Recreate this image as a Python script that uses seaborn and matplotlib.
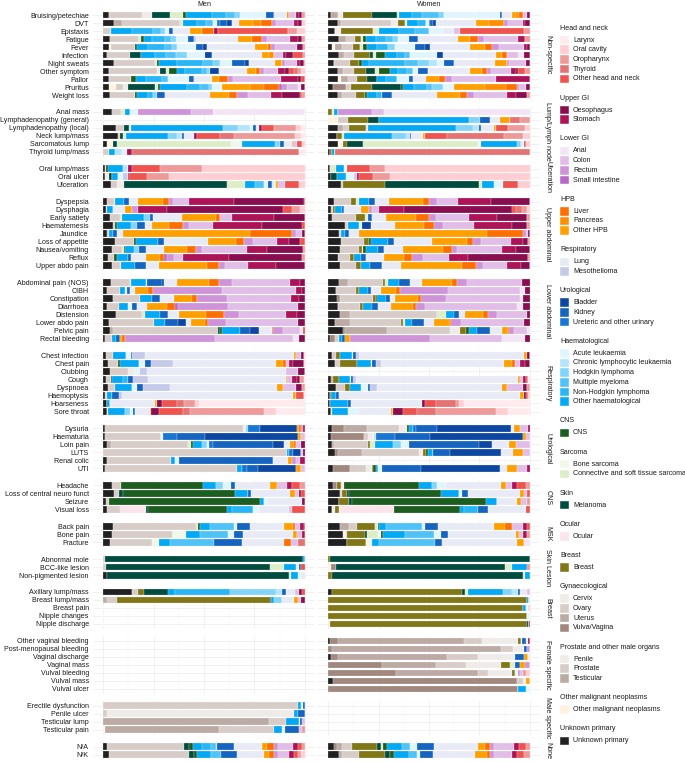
import matplotlib
matplotlib.use("Agg")
import matplotlib.pyplot as plt
from matplotlib.patches import Rectangle
import numpy as np
import pandas as pd
import seaborn as sns

sns.set_theme(style="white")
plt.rcParams["font.family"] = ["Liberation Sans", "DejaVu Sans"]

# cancer site codes -> legend labels / colours
CANCER_LABELS = {
    "LAR": "Larynx", "ORA": "Oral cavity", "ORO": "Oropharynx", "THY": "Thyroid",
    "OHN": "Other head and neck", "OES": "Oesophagus", "STO": "Stomach",
    "ANA": "Anal", "COL": "Colon", "REC": "Rectum", "SMA": "Small intestine",
    "LIV": "Liver", "PAN": "Pancreas", "OHP": "Other HPB",
    "LUN": "Lung", "MES": "Mesothelioma",
    "BLA": "Bladder", "KID": "Kidney", "URE": "Ureteric and other urinary",
    "ACU": "Acute leukaemia", "CLL": "Chronic lymphocytic leukaemia",
    "HOD": "Hodgkin lymphoma", "MM": "Multiple myeloma",
    "NHL": "Non-Hodgkin lymphoma", "OHA": "Other haematological",
    "CNS": "CNS", "BON": "Bone sarcoma", "CTS": "Connective and soft tissue sarcoma",
    "MEL": "Melanoma", "OCU": "Ocular", "BRE": "Breast",
    "CER": "Cervix", "OVA": "Ovary", "UTE": "Uterus", "VUL": "Vulva/Vagina",
    "PEN": "Penile", "PRO": "Prostate", "TES": "Testicular",
    "OTH": "Other malignant neoplasms", "UNK": "Unknown primary",
}

COLOURS = {
    "LAR": "#ffebee", "ORA": "#ffcdd2", "ORO": "#ef9a9a", "THY": "#e57373", "OHN": "#ef5350",
    "OES": "#880e4f", "STO": "#ad1457",
    "ANA": "#f3e5f5", "COL": "#e1bee7", "REC": "#ce93d8", "SMA": "#ba68c8",
    "LIV": "#ff6f00", "PAN": "#ff8f00", "OHP": "#ffa000",
    "LUN": "#e8eaf6", "MES": "#c5cae9",
    "BLA": "#0d47a1", "KID": "#1565c0", "URE": "#1976d2",
    "ACU": "#e1f5fe", "CLL": "#b3e5fc", "HOD": "#81d4fa", "MM": "#4fc3f7",
    "NHL": "#29b6f6", "OHA": "#03a9f4",
    "CNS": "#1b5e20", "BON": "#f1f8e9", "CTS": "#dcedc8", "MEL": "#004d40",
    "OCU": "#fce4ec", "BRE": "#827717",
    "CER": "#efebe9", "OVA": "#d7ccc8", "UTE": "#bcaaa4", "VUL": "#a1887f",
    "PEN": "#efebe9", "PRO": "#d7ccc8", "TES": "#bcaaa4",
    "OTH": "#fff3e0", "UNK": "#212121",
}

LEGEND_GROUPS = [
    ("Head and neck", ["LAR", "ORA", "ORO", "THY", "OHN"]),
    ("Upper GI", ["OES", "STO"]),
    ("Lower GI", ["ANA", "COL", "REC", "SMA"]),
    ("HPB", ["LIV", "PAN", "OHP"]),
    ("Respiratory", ["LUN", "MES"]),
    ("Urological", ["BLA", "KID", "URE"]),
    ("Haematological", ["ACU", "CLL", "HOD", "MM", "NHL", "OHA"]),
    ("CNS", ["CNS"]),
    ("Sarcoma", ["BON", "CTS"]),
    ("Skin", ["MEL"]),
    ("Ocular", ["OCU"]),
    ("Breast", ["BRE"]),
    ("Gynaecological", ["CER", "OVA", "UTE", "VUL"]),
    ("Prostate and other male organs", ["PEN", "PRO", "TES"]),
    ("Other malignant neoplasms", ["OTH"]),
    ("Unknown primary", ["UNK"]),
]

GROUPS = ["Non-specific", "Lump/Lymph node", "Ulceration", "Upper abdominal",
          "Lower abdominal", "Respiratory", "Urological", "CNS", "MSK",
          "Skin Lesion", "Breast", "Female specific", "Male specific", "None"]
GROUP_SIZES = [11, 6, 3, 9, 8, 8, 6, 4, 3, 3, 5, 7, 4, 2]

SYMPTOMS = [
    "Bruising/petechiae", "DVT", "Epistaxis", "Fatigue", "Fever", "Infection",
    "Night sweats", "Other symptom", "Pallor", "Pruritus", "Weight loss",
    "Anal mass", "Lymphadenopathy (general)", "Lymphadenopathy (local)",
    "Neck lump/mass", "Sarcomatous lump", "Thyroid lump/mass",
    "Oral lump/mass", "Oral ulcer", "Ulceration",
    "Dyspepsia", "Dysphagia", "Early satiety", "Haematemesis", "Jaundice",
    "Loss of appetite", "Nausea/vomiting", "Reflux", "Upper abdo pain",
    "Abdominal pain (NOS)", "CIBH", "Constipation", "Diarrhoea", "Distension",
    "Lower abdo pain", "Pelvic pain", "Rectal bleeding",
    "Chest infection", "Chest pain", "Clubbing", "Cough", "Dyspnoea",
    "Haemoptysis", "Hoarseness", "Sore throat",
    "Dysuria", "Haematuria", "Loin pain", "LUTS", "Renal colic", "UTI",
    "Headache", "Loss of central neuro funct", "Seizure", "Visual loss",
    "Back pain", "Bone pain", "Fracture",
    "Abnormal mole", "BCC-like lesion", "Non-pigmented lesion",
    "Axillary lump/mass", "Breast lump/mass", "Breast pain", "Nipple changes",
    "Nipple discharge",
    "Other vaginal bleeding", "Post-menopausal bleeding", "Vaginal discharge",
    "Vaginal mass", "Vulval bleeding", "Vulval mass", "Vulval ulcer",
    "Erectile dysfunction", "Penile ulcer", "Testicular lump", "Testicular pain",
    "N/A", "N/K",
]

# share (%) of each cancer site per symptom
MEN = [
    "UNK 3 PRO 16 PEN 5 MEL 9 CTS 6 CNS 1.5 OHA 13 NHL 7 MM 4 HOD 2.5 ACU 13 KID 4 LUN 6 PAN 1 COL 3.5 STO 1.5 OES 1.5 ORO 1.5",
    "UNK 5.5 TES 3.6 PRO 29 CTS 1.3 OHA 7 NHL 4.5 MM 3.3 ACU 2 URE 1.5 KID 3.5 BLA 2.4 LUN 3.5 OHP 7 PAN 3.8 LIV 5.3 REC 2.1 COL 9 STO 2.1 OES 1.6 ORA 1.6",
    "PRO 4.1 OHA 10.4 NHL 10.2 MM 3.8 HOD 2 ACU 2 KID 2.1 LUN 8.3 OHP 6.1 LIV 6 STO 2 OHN 34.7 ORO 4.1 ORA 4.1",
    "UNK 3.3 PRO 14.5 CTS 0.8 CNS 1.5 OHA 4.3 NHL 6.1 MM 3.3 HOD 2.5 ACU 5.8 KID 2.8 MES 1.3 LUN 20.7 OHP 7 LIV 4.6 REC 2.5 COL 11.6 STO 3.8 OES 2 ORO 1.6",
    "UNK 2.8 OTH 1.3 PRO 11.6 CNS 1.3 OHA 5.3 NHL 8.3 MM 3.3 HOD 2.5 ACU 9.6 KID 3.6 BLA 1.6 LUN 24 OHP 6.3 LIV 1.5 REC 2.1 COL 10.7 OES 3.3 ORO 0.8",
    "UNK 2 PRO 11.2 MEL 5.5 OHA 7 NHL 5.5 MM 5 HOD 5.3 ACU 9 BLA 3.3 LUN 24.8 OHP 3.8 PAN 2.3 COL 4.3 STO 1.6 OES 3.6 OHN 5 ORO 0.8",
    "UNK 5.5 PRO 20.2 CTS 0.8 CNS 1.3 OHA 8.6 NHL 13.2 MM 5 HOD 3.3 ACU 5.8 KID 6.6 BLA 2.1 LUN 12.7 OHP 3.3 REC 1.6 COL 5.8 STO 1.6 OES 2 ORO 0.5",
    "UNK 3 PRO 23.8 PEN 1.4 MEL 3 CTS 1.4 CNS 4.2 OHA 4 NHL 8 MM 2.6 HOD 1.8 BLA 4.4 LUN 13.8 OHP 4.2 LIV 2.3 REC 1.8 COL 7 STO 3.5 OES 2.1 OHN 2.3 THY 1.8 ORO 1.8 ORA 1.8",
    "UNK 3 PRO 11 CNS 2.1 OHA 5.3 NHL 8 MM 2.6 ACU 10.6 KID 2.6 LUN 8.8 OHP 3.5 LIV 4.4 REC 2.6 COL 23.8 STO 8 OES 1.8 OHN 1.8",
    "UNK 3 OTH 3.5 PRO 3.5 PEN 2.3 MEL 13.6 CTS 1.4 CNS 0.7 OHA 13.8 NHL 6.2 MM 4.4 HOD 1.8 ACU 4.8 OHP 13.8 PAN 7 LIV 7.4 SMA 1.4 REC 2.6 COL 5.3 ANA 1.8 OES 1.8",
    "UNK 3.5 PRO 12.3 CNS 0.9 OHA 5.6 NHL 2.6 HOD 1.8 KID 4 LUN 22.4 OHP 9.3 LIV 3.9 REC 5.3 COL 11.5 STO 5.3 OES 8.8 OHN 1.4 ORO 1.2",
    "UNK 4.4 PRO 4.4 CTS 2.1 OHA 2.3 ACU 3.9 REC 26.4 COL 10.9 ANA 45.5",
    "",
    "UNK 6.5 PRO 3.5 MEL 2.5 CTS 0.9 OHA 44.6 HOD 7.6 CLL 5.6 ACU 1.5 KID 1.4 LUN 1.4 STO 1.8 OHN 5.6 ORO 10.9 ORA 2.3 LAR 1.8",
    "UNK 7.4 PRO 1.2 MEL 1.2 CTS 1.4 OHA 20.8 HOD 4.8 CLL 2.6 KID 0.9 LUN 4.9 STO 1.2 OHN 11.5 THY 7 ORO 30.3 ORA 3.2 LAR 1.8",
    "UNK 2.1 OTH 2.6 MEL 2.3 CTS 56.4 BON 5.3 OHA 16.2 HOD 2.6 KID 1.8 LUN 4 OHP 0.7 COL 1.9 OHN 2.6 ORA 1.2",
    "PRO 3 OHA 3 CLL 3.2 LUN 2.6 STO 2.6 THY 82.5 LAR 3",
    "UNK 0.8 PRO 0.8 CNS 0.8 OHA 7.4 CLL 2.5 STO 2 OHN 13.4 ORO 21 ORA 50.4",
    "UNK 0.9 PEN 2.1 MEL 1.2 OHA 3.2 ACU 2.6 MES 2.1 STO 0.5 OHN 9.3 ORO 10.6 ORA 67.4",
    "UNK 3.9 PRO 3 PEN 3.7 MEL 50.6 CTS 9.3 OHA 4.8 MM 4.4 ACU 2.1 KID 1.8 LUN 2.3 OHP 0.9 COL 3.5 OHN 6.7 ORA 3",
    "UNK 1.8 PRO 3.5 CTS 0.4 OHA 4.4 KID 2.6 LUN 4.4 OHP 12.3 LIV 3 REC 2.3 COL 7.9 STO 22 OES 34.7 OHN 0.5",
    "UNK 1.6 PRO 0.5 OHA 3 LUN 5.5 OHP 3.9 REC 2.6 STO 14.6 OES 57.3 OHN 4.2 ORO 4 ORA 2.6",
    "UNK 3.5 PRO 4.8 CTS 1.2 OHA 10.8 HOD 3 KID 1.4 LUN 14.5 OHP 16.8 LIV 2.1 COL 5.8 STO 20.8 OES 15.3",
    "UNK 4.8 PRO 0.9 CNS 1.4 OHA 6.5 HOD 3 KID 4 LUN 3.5 OHP 8.5 LIV 6.9 REC 3.2 COL 12 STO 24.2 OES 19.9 OHN 1.2",
    "UNK 2.1 PRO 0.9 OHA 1.8 KID 2.3 LUN 3 OHP 63 LIV 20.5 REC 2.1 COL 3.2 OES 1.2",
    "UNK 6 PRO 9.3 CNS 0.9 OHA 10.6 KID 3 LUN 22 OHP 13.6 LIV 4 REC 4.4 COL 12 STO 5.6 OES 5.6 OHN 2.3",
    "UNK 4.4 PRO 4.8 CTS 0.9 CNS 0.9 OHA 4.4 HOD 2.1 KID 3.9 LUN 8.5 OHP 11.5 LIV 4.4 REC 3 COL 22 STO 10.2 OES 17.6 ORO 0.9",
    "UNK 2.5 PRO 2.8 CNS 1.2 OHA 5.3 KID 1.8 LUN 7.2 OHP 6.9 LIV 1.8 SMA 1.4 REC 3.5 COL 4.4 STO 22 OES 35.3 ORO 1.4",
    "UNK 4.2 PRO 4 CTS 0.9 OHA 6.7 KID 5.6 LUN 6.2 OHP 23.8 LIV 6.2 REC 2.6 COL 11.5 STO 14.1 OES 14.1",
    "UNK 4.1 PRO 9.1 CTS 0.5 OHA 7.3 ACU 0.8 KID 7.4 BLA 0.8 LUN 6.6 OHP 15.4 LIV 5.3 REC 6.3 COL 28.4 STO 5 OES 2.5",
    "UNK 2 PRO 6.3 OHA 2.5 ACU 0.8 KID 1.6 LUN 2.5 OHP 6.6 LIV 2.5 REC 33.9 COL 36.9 STO 2.8 OES 1.6",
    "UNK 5 PRO 13.2 OHA 5.8 KID 4.1 LUN 6.9 OHP 8.8 LIV 2.5 REC 14.9 COL 31.4 STO 4 OES 3",
    "UNK 2 PRO 6 OHA 4.5 ACU 2 KID 2.1 LUN 5 OHP 9.9 LIV 4.1 SMA 1.6 REC 24.8 COL 34.4 OES 3.6",
    "UNK 6.3 PRO 13.2 CTS 1.2 OHA 7.4 KID 4.1 LUN 5.5 OHP 13.2 LIV 8.9 REC 7.6 COL 23.1 STO 5.3 OES 4.1",
    "UNK 3 PRO 22.1 OHA 5.5 KID 6.6 BLA 4.1 LUN 2.5 OHP 6.6 LIV 1.6 REC 8.8 COL 35.9 OES 3.3",
    "UNK 3.3 TES 1.6 PRO 52 MEL 0.8 CNS 1.3 OHA 8.6 KID 5 BLA 4.6 LUN 6.1 LIV 0.8 REC 5 COL 8.3 ANA 1.6 OHN 0.8",
    "UNK 0.8 PRO 3.8 OHA 1.6 KID 2 OHP 1.3 LIV 1.2 REC 44.6 COL 38.5 ANA 3.3 OES 2.8",
    "UNK 1.3 PRO 3.6 OHA 6.3 ACU 2.5 KID 0.8 MES 6.1 LUN 73.9 OHP 1.3 COL 2.5 OES 1.2 ORA 0.5",
    "UNK 2.5 PRO 5 CNS 0.8 OHA 9.6 ACU 2.8 KID 2.8 MES 10.9 LUN 51.2 OHP 3.6 LIV 1.3 COL 1.6 STO 2 OES 5.3 ORA 0.5",
    "UNK 3.3 PRO 9.1 PEN 3.3 ACU 2.8 MES 3.3 LUN 68.8 COL 6.1 OES 3.3",
    "UNK 1.3 PRO 2.5 CNS 0.8 OHA 5.3 NHL 2.5 KID 2.5 MES 7.4 LUN 68.3 OHP 0.7 COL 2.6 STO 2.5 OES 1.2 ORO 2 LAR 0.5",
    "UNK 2.5 PRO 3.3 OHA 8.3 ACU 2.5 KID 3.3 MES 13.2 LUN 53.2 OHP 2.6 COL 6.6 OES 3.3 ORO 1.2",
    "UNK 0.8 PRO 1.2 OHA 2.6 KID 3.3 MES 1.6 LUN 84.3 OHP 1.2 OHN 4 LAR 0.5",
    "UNK 1.7 OHA 1.7 LUN 21.8 OHP 1 OES 2.5 OHN 7.4 THY 3.3 ORO 5.8 ORA 1.7 LAR 51.9",
    "UNK 1.8 CTS 0.7 OHA 8.5 HOD 2.1 ACU 1.8 KID 1 LUN 7 OHP 0.7 OES 4 OHN 11.8 THY 3.5 ORO 36.5 ORA 5.8 LAR 14.1",
    "UNK 0.7 PRO 68.4 PEN 1.8 HOD 0.9 URE 5.8 BLA 18.5 OHP 1.2 LIV 0.9 REC 0.9 STO 0.9",
    "UNK 0.9 PRO 28 ACU 1 URE 6.9 KID 13.8 BLA 45.9 OHP 1.8 COL 1.8",
    "UNK 1.8 TES 2.1 PRO 38.4 CTS 1.2 CNS 0.9 OHA 4.4 HOD 2.6 ACU 0.9 URE 2.3 KID 29.5 BLA 5.3 LUN 3 OHP 2.3 LIV 0.9 COL 2.6 OES 1.8",
    "PRO 91.2 OHA 0.9 URE 2.1 BLA 4.1 COL 0.9 OES 0.9",
    "UNK 2.1 PRO 31.4 OHA 2.1 ACU 1.8 KID 46.7 LUN 7.6 OHP 2.1 REC 1.8 COL 2.1 STO 2.3",
    "UNK 0.9 PRO 65.3 OHA 2.6 URE 2.5 KID 5.3 BLA 19 OHP 2.6 COL 1.8",
    "UNK 4.2 PRO 4.9 CNS 40.2 OHA 6.5 HOD 3.5 ACU 4 KID 2.1 LUN 17.3 OHP 3.5 COL 4.8 STO 2.3 OHN 4.2 ORO 2.3",
    "UNK 5.6 PRO 2.1 MEL 2.3 CNS 55.2 OHA 6.5 KID 1.4 LUN 19.2 OHP 2.8 COL 1.8 OES 1.2 OHN 1.8",
    "UNK 1.6 PRO 1.4 CNS 74.6 OHA 2.1 ACU 2.1 LUN 16.9 OES 1.2",
    "UNK 1.8 PRO 6.5 OCU 13.2 MEL 0.9 CNS 39 OHA 2.5 NHL 10.6 ACU 2.6 LUN 15 COL 1.4 OHN 6.5",
    "UNK 5.1 PRO 41.1 CTS 0.9 CNS 0.9 OHA 5.3 MM 11.5 ACU 1.8 KID 6.2 LUN 16.8 OHP 4.8 LIV 1 COL 2.5 STO 1.8 OHN 0.5",
    "UNK 4.4 PRO 29.5 CTS 0.9 BON 6.2 OHA 7 MM 13.8 ACU 3 KID 4.4 LUN 25 OHP 1.8 COL 2.8 STO 1.2",
    "UNK 3.5 PRO 20.6 BON 3.5 OHA 5.3 MM 22 KID 13.8 LUN 20.6 LIV 3.5 COL 3.5 THY 3.5",
    "PRO 0.7 MEL 98.4 OHA 0.9",
    "PRO 1.2 MEL 81.7 CTS 6.5 OHA 6.2 ACU 1.4 KID 1.2 OHN 1.8",
    "UNK 2.1 MEL 90 CTS 0.9 OHA 3.5 ACU 1.8 LUN 1.8",
    "UNK 14.1 PRO 3 BRE 3 MEL 12.3 OHA 3.2 NHL 27.3 HOD 22.9 CLL 3 KID 1.8 LUN 4.6 COL 1.8 OES 1.8 OHN 1.2",
    "TES 2.1 PRO 4.9 BRE 76.2 OHA 1.8 HOD 3.5 LUN 6.2 OHP 1.8 COL 1.8 OES 1.8",
    "", "", "",
    "", "", "", "", "", "", "",
    "PRO 96.5 OHA 1.8 ACU 0.9 KID 0.9",
    "PRO 2.1 PEN 92.6 OHA 1.8 KID 3.5",
    "TES 82.4 PRO 8.5 OHA 6.2 ACU 0.7 KID 1.1 COL 1.2",
    "OTH 0.7 TES 57 PRO 27 OHA 3.9 ACU 1.8 KID 6.7 COL 1.8 ORO 1.2",
    "UNK 1.8 PRO 38.3 MEL 2.6 CNS 1.8 OHA 4.4 NHL 4.4 MM 2.6 CLL 0.5 KID 8.3 LUN 14.1 OHP 2.3 LIV 3.5 REC 2.1 COL 7 STO 2.6 OHN 2.3 ORO 1.2",
    "UNK 3 PRO 39.7 MEL 2.1 CNS 1.8 OHA 6.7 MM 5.3 KID 7.9 LUN 13.2 OHP 2.6 LIV 2.6 REC 1.8 COL 5.3 STO 2.6 OHN 1.8 ORO 1.8 ORA 1.8",
]

WOMEN = [
    "UNK 1.6 UTE 3.2 CER 2.6 BRE 14.6 MEL 12.3 CTS 1 OHA 6.5 NHL 5 MM 8 HOD 2.6 ACU 27.7 KID 1.4 LUN 4.8 OHP 2 PAN 1.5 LIV 1.8 COL 2.3 OES 1.2",
    "UNK 4.8 UTE 1.4 OVA 25 CER 3.2 BRE 3.5 CTS 1.2 OHA 5 NHL 4.3 ACU 1.2 URE 0.8 KID 1.5 BLA 1.2 LUN 20 OHP 6 PAN 7.7 REC 1.8 COL 7.4 STO 1 OES 2.5",
    "UNK 3.4 CER 3.2 BRE 15.5 CTS 3 OHA 10 NHL 8 MM 6.7 ACU 7 LUN 5.6 COL 3.2 OHN 31.4 ORO 3",
    "UNK 5.6 UTE 3.2 OVA 4.4 BRE 3 CTS 0.9 CNS 1.4 OHA 5 NHL 5 MM 3.6 HOD 2.3 ACU 5.6 KID 4.4 LUN 19.8 OHP 5.8 LIV 4 REC 3 COL 17 STO 3.5 ORO 2.3",
    "UNK 2 OTH 1.2 UTE 3.5 OVA 5.8 BRE 3.3 CTS 1.3 CNS 2 OHA 5 NHL 5.7 HOD 3.3 ACU 10 KID 5 BLA 2.4 LUN 19.8 OHP 7.5 LIV 3.3 REC 3.3 COL 12.4 STO 1.5 OES 1.5",
    "UNK 5.5 UTE 2.3 OVA 5 BRE 7.9 MEL 1.3 CTS 1.6 CNS 4.5 OHA 5.8 NHL 4.1 MM 2.5 ACU 13.2 BLA 2.8 LUN 26.4 OHP 3 LIV 2.3 COL 5.5 ANA 2.8 OES 3",
    "UNK 3 OVA 7.6 BRE 4.8 CNS 1 OHA 3.5 NHL 18 MM 6 HOD 5.5 CLL 4 ACU 3.5 KID 4.8 LUN 20 OHP 6.2 REC 1 COL 8.3 OES 1.8",
    "UNK 4.8 UTE 2.6 OVA 5.3 BRE 6.2 MEL 4.4 CTS 1.8 CNS 5.3 OHA 4.4 NHL 4.4 MM 2.6 ACU 2.6 KID 5.3 LUN 20.3 OHP 6.2 LIV 2.6 REC 1.8 COL 9.7 STO 2.6 OES 0.9 OHN 3.5 ORO 2.6",
    "UNK 4.8 OTH 1.8 UTE 3.5 OVA 4.4 BRE 4.8 MEL 4.9 OHA 4.4 NHL 5.3 ACU 6.2 KID 1.8 LUN 6.5 OHP 6.7 LIV 2.6 REC 3.5 COL 22 STO 16.8",
    "UNK 2.5 VUL 6.2 OVA 2.6 BRE 10.2 MEL 14.6 CNS 0.9 OHA 5.6 NHL 6.2 MM 2.6 HOD 5.3 ACU 5.6 OHP 15.5 PAN 10.2 LIV 5.6 REC 0.9 COL 3.5 OES 1.8",
    "UNK 4.8 UTE 2.3 OVA 6.5 BRE 4.8 CNS 0.9 OHA 4.9 NHL 2.6 KID 4.9 LUN 22.4 OHP 11.5 LIV 3.2 REC 3.5 COL 16.2 STO 4.8 OES 5.5 ORO 1.2",
    "BRE 2.1 CTS 0.9 OHA 1.8 REC 17 COL 5.8 ANA 72.3",
    "OTH 5 OVA 5 BRE 9.9 MEL 5.3 OHA 45 HOD 5 KID 5 LUN 5 OHP 5 THY 5 ORO 5",
    "UNK 4.8 UTE 2.6 OVA 2.6 BRE 8.3 CTS 1 OHA 43 HOD 8.5 CLL 2.6 KID 1.2 LUN 6.3 OHP 1.2 OHN 5.8 ORO 7.9 ORA 2.6",
    "UNK 4.2 BRE 2.8 CTS 0.9 OHA 23.8 HOD 7 CLL 1.8 KID 0.7 LUN 5.8 OHP 0.9 OHN 10.9 THY 28.2 ORO 9.7 ORA 3.2",
    "UNK 4.8 OTH 2.6 BRE 1.8 MEL 7.9 CTS 57.3 BON 1.4 OHA 18 HOD 1.8 LUN 1.4 OHN 1.2 ORA 1.8",
    "UNK 0.7 BRE 1.4 OHA 1.4 THY 96.5",
    "UNK 0.7 CTS 3.2 OHA 3.9 ACU 1.4 OHN 11.5 ORO 7.6 ORA 71.8",
    "UNK 1.6 MEL 2.6 OHA 4.6 ACU 3.9 COL 1.8 STO 0.9 OHN 6.7 ORO 8.6 ORA 69.3",
    "UNK 6.5 OVA 0.9 BRE 20.8 MEL 46.7 CTS 1.2 OHA 6.2 ACU 4.4 OHN 7.4 ORA 5.8",
    "UNK 3 OVA 8.5 BRE 2.5 CTS 1.4 OHA 4.8 KID 3.2 LUN 6.7 OHP 16.8 LIV 3 REC 3.9 COL 10.2 STO 16.8 OES 19",
    "UNK 1.6 OVA 0.9 BRE 0.9 OHA 3.7 KID 0.7 LUN 8.5 OHP 3.9 REC 1.8 COL 3.2 STO 12.3 OES 53.4 OHN 2.1 THY 3 ORO 2.6 ORA 1.4",
    "UNK 2.1 OVA 11.5 BRE 4.8 CTS 1.4 KID 2.1 LUN 6.7 OHP 15 LIV 6.5 REC 3.5 COL 16.4 STO 13.6 OES 15.2 ORO 1.2",
    "UNK 8.3 OVA 1.8 OHA 5.3 ACU 1.2 BLA 4.9 LUN 11.5 OHP 14.6 LIV 4.8 REC 4.8 COL 15.2 STO 18.9 OES 7.6 ORO 1.2",
    "UNK 5.6 OVA 0.9 OHA 1.8 KID 2.3 LUN 4.8 OHP 63.5 LIV 17.6 REC 1.8 COL 0.9 OES 0.9",
    "UNK 6.5 OVA 11.1 BRE 2.5 CNS 0.9 OHA 8.5 KID 2.6 LUN 18.9 OHP 16.8 LIV 3.2 REC 3.9 COL 14.5 STO 5.8 OES 2.6 ORO 0.9",
    "UNK 5.6 OVA 9.3 BRE 1.2 CTS 0.9 CNS 1.4 OHA 5.8 KID 2.5 LUN 9.3 OHP 19.4 LIV 4 REC 2.6 COL 21.5 STO 7 OES 6.5",
    "UNK 4.8 OVA 6.2 BRE 1.8 OHA 3.5 KID 2.6 LUN 8.8 OHP 9.7 LIV 4.4 REC 5.3 COL 12.9 STO 9.5 OES 29.6 ORO 0.9",
    "UNK 5.6 OVA 7.9 BRE 2.6 OHA 4.4 KID 5.8 LUN 9.2 OHP 30 LIV 7 REC 3.5 COL 11.8 STO 6.7 OES 4.4",
    "UNK 5.5 UTE 4.5 OVA 17 BRE 1.2 CTS 1.6 OHA 5.5 KID 5.3 LUN 5.8 OHP 14.9 LIV 2.8 REC 4.6 COL 27.3 OES 4.1",
    "UNK 3.8 OVA 10.2 BRE 1.3 OHA 4.5 KID 1.6 LUN 5 OHP 7.4 LIV 1.6 REC 24 COL 35.5 ANA 2.5 OES 2.5",
    "UNK 4.5 VUL 1.3 OVA 16.2 BRE 1.6 CNS 0.7 OHA 4.6 KID 1.6 LUN 2.5 OHP 11.6 LIV 1.6 REC 12.4 COL 36.4 ANA 1.6 OES 3.3",
    "UNK 5 OVA 10.7 BRE 1.6 OHA 4.6 KID 2.8 LUN 6.6 OHP 10.7 LIV 1.6 REC 4.1 COL 45.5 ANA 3.3 OES 3.3",
    "UNK 6.1 UTE 5 OVA 43 CTS 4.3 OHA 4 KID 2.6 LUN 2.8 OHP 8.8 LIV 2.5 REC 4.5 COL 14.9 OES 1.6",
    "UNK 3.3 UTE 7.4 OVA 24.5 BRE 1 CTS 1.2 OHA 3.3 KID 5.8 LUN 5 OHP 7.4 LIV 0.8 REC 4.6 COL 30.4 OES 3",
    "UNK 7.4 VUL 0.8 UTE 21 OVA 31 CER 5 BRE 2.5 CNS 1.6 OHA 3.8 KID 6.6 LUN 6.1 OHP 2.8 LIV 0.5 REC 2.5 COL 6.6 ANA 1.2",
    "UNK 0.8 VUL 2.5 OVA 2.1 OHA 1.6 KID 1.2 OHP 2.5 REC 39 COL 35.7 ANA 11 OES 2.5",
    "UNK 2.1 OVA 2 BRE 2 OHA 5.5 ACU 0.8 KID 1.3 MES 1.6 LUN 81.3 OHP 1.3 OES 1.6",
    "UNK 3.3 OVA 2.8 BRE 8.3 OHA 7.1 ACU 0.5 KID 1.6 MES 2.8 LUN 60.7 OHP 3.8 LIV 1.6 COL 2.5 STO 2.5 OES 2.5",
    "",
    "UNK 1.2 UTE 1.3 BRE 3 OHA 5.3 ACU 0.3 KID 1.3 MES 1.6 LUN 80 OHP 0.8 COL 1.6 STO 1.3 OHN 1.2 LAR 0.8",
    "UNK 4.1 OVA 4.1 BRE 2.8 OHA 5.5 ACU 3.3 KID 1.2 MES 3.3 LUN 61.7 OHP 2.5 COL 7.9 OES 2.3 ORO 1.3",
    "UNK 0.8 BRE 0.8 OHA 2.1 KID 1.6 LUN 89.6 OHP 2 OES 1 OHN 1.2 ORA 0.8",
    "UNK 0.8 OHA 9 KID 1.6 LUN 34.7 OES 1.3 OHN 5.3 THY 9.9 ORO 1.6 ORA 2.5 LAR 32.2",
    "UNK 1.2 CTS 0.9 OHA 7.9 ACU 5.3 LUN 15.9 OHP 0.9 OES 4.9 OHN 7 THY 9.5 ORO 29.6 ORA 6.2 LAR 10.6",
    "UNK 2.1 VUL 5.6 UTE 11.6 OVA 15.9 CER 3.9 CNS 0.9 OHA 2.3 URE 1.2 KID 10.6 BLA 36.5 LUN 1.4 OHP 3.2 COL 3.9 STO 0.9",
    "UNK 1.2 VUL 16.4 OVA 2.1 CER 2.6 CLL 1.2 URE 9.3 KID 17.1 BLA 45 OHP 1.8 COL 1.8",
    "UNK 1.8 UTE 1.2 OVA 16.4 BRE 1.2 CTS 2.6 OHA 8.5 HOD 3.9 ACU 3.9 KID 34.6 BLA 6.5 LUN 8.3 OHP 3.2 COL 7",
    "UNK 3.5 VUL 1.2 UTE 11.8 OVA 28.2 CER 1.8 BRE 1.4 CNS 0.9 OHA 2.6 KID 8.3 BLA 25.2 LUN 5.8 OHP 4.8 COL 3.5",
    "",
    "UNK 2.6 VUL 8.3 OVA 7.9 CER 2.6 BRE 0.9 CNS 1.2 OHA 0.9 ACU 2.1 KID 19.4 BLA 38.4 LUN 3.5 OHP 4.9 COL 5.3 STO 1.2",
    "UNK 2.5 VUL 1.8 BRE 2.3 OCU 1.2 CNS 37 OHA 6.7 HOD 2.6 ACU 4.4 LUN 27.3 OHP 2.3 COL 3 STO 2.3 OHN 4.8 ORO 1.8",
    "UNK 6 OVA 1 BRE 2.5 MEL 1 CNS 45.3 OHA 8.8 ACU 1.8 KID 3 LUN 25.7 OHP 1.8 COL 1.8 OHN 1.2",
    "UNK 5.6 BRE 4.9 MEL 1.2 CNS 66.1 OHA 5.6 LUN 9.9 OHP 1.8 COL 3.2 ORO 1.2",
    "UNK 2.1 CER 1.2 BRE 2.3 OCU 27 CNS 33 OHA 1.8 NHL 7 KID 5 LUN 18.9 OHN 1.8",
    "UNK 6 UTE 4.6 OVA 3.5 BRE 9.2 CTS 1.4 CNS 0.7 OHA 3.2 MM 18 ACU 1.4 KID 6.7 LUN 27.7 OHP 5.3 LIV 3.5 COL 5.3 STO 2.3 OHN 1.2",
    "UNK 7.4 OTH 1.4 OVA 0.7 BRE 8.8 MEL 1 CTS 5.3 BON 1.8 CNS 0.9 OHA 10.6 MM 14.5 ACU 3.5 KID 3.5 LUN 33.5 OHP 1.8 COL 1.8 STO 2.3 ORO 1.2",
    "UNK 9.5 BRE 9.3 BON 3 OHA 3.5 MM 27.5 KID 3.5 LUN 37 OHP 3.5 ANA 3",
    "BRE 0.9 MEL 99.1",
    "OTH 1.6 VUL 2.3 MEL 83.8 CTS 3.5 OHA 7.6 ORO 1.2",
    "BRE 1.8 MEL 94.7 CTS 0.9 OHA 2.6",
    "UNK 1.8 BRE 64.7 MEL 1.2 CTS 1.4 OHA 17.3 HOD 4.8 CLL 2.6 KID 1.4 LUN 3.5 COL 1.2",
    "BRE 98.6 OHA 0.9 LAR 0.5",
    "BRE 96.8 OHA 1.4 ACU 0.9 ORA 0.9",
    "BRE 98.8 ACU 1.2",
    "CER 0.7 BRE 98.1 MEL 0.7 OES 0.5",
    "UNK 0.7 VUL 4 UTE 62.6 OVA 8.8 CER 18 BRE 1.4 ACU 0.5 KID 2.1 LUN 0.9 STO 0.9",
    "VUL 2.1 UTE 83.8 OVA 5.6 CER 5.8 KID 1.1 REC 1.6",
    "UNK 1.2 VUL 3.5 UTE 54.1 OVA 15.5 CER 18.2 KID 4.8 OHP 1.8 LAR 0.9",
    "VUL 26.8 UTE 26.8 OVA 14.6 CER 17.1 BRE 4.9 CTS 2.3 KID 2.6 OHP 2.1 REC 2.6",
    "VUL 33.5 UTE 40.6 OVA 5.3 CER 11.8 BRE 1.4 ACU 1.6 REC 1 COL 1.2 ORO 1.8 ORA 1.8",
    "UNK 2.5 VUL 91.4 OVA 2.6 CER 1.8 OHP 1.8",
    "VUL 94.2 OHA 4 ACU 1.8",
    "", "", "", "",
    "UNK 3 VUL 1.4 UTE 2.6 OVA 4.8 BRE 12.3 MEL 2.3 CTS 0.9 CNS 1.6 OHA 7.6 MM 4 ACU 3.5 KID 8.3 LUN 22 OHP 3.2 LIV 2.5 REC 1.9 COL 10 STO 2.6 OHN 3.5 ORO 1.8",
    "UNK 5.3 UTE 1.8 OVA 8.3 BRE 12.9 MEL 2.5 CNS 1.8 OHA 7.6 MM 4 ACU 1.2 KID 6.5 LUN 20.8 OHP 6.2 LIV 1.2 REC 2.3 COL 8.8 STO 2.3 OHN 3.5 ORO 3",
]

# bars stack left to right in the reverse of the legend order
STACK = [c for _, codes in LEGEND_GROUPS for c in codes][::-1]


def parse(row):
    t = row.split()
    return dict(zip(t[::2], map(float, t[1::2])))


records = []
group_of = np.repeat(GROUPS, GROUP_SIZES)
for sex, rows in [("Men", MEN), ("Women", WOMEN)]:
    for sym, grp, row in zip(SYMPTOMS, group_of, rows):
        d = parse(row)
        total = sum(d.values())
        for code, v in d.items():
            records.append({"symptom": sym, "group": grp, "sex": sex,
                            "code": code, "share": v / total})
df = pd.DataFrame(records)

W, H = 685, 762
fig = plt.figure(figsize=(W / 100, H / 100), dpi=100)

ROW = 8.0     # px per symptom
GAP = 7.3     # px between facets
TOP = 10.2
PANELS = {"Men": (93, 315), "Women": (318, 540)}
FS = 5.1
TXT = "#1a1a1a"


def px_axes(x0, x1, y0, h):
    return fig.add_axes([x0 / W, 1 - (y0 + h) / H, (x1 - x0) / W, h / H])


y0 = TOP
start = 0
for grp, n in zip(GROUPS, GROUP_SIZES):
    h = (n + 0.2) * ROW
    names = SYMPTOMS[start:start + n]
    pos = np.arange(n)
    for sex, (x0, x1) in PANELS.items():
        ax = px_axes(x0, x1, y0, h)
        sub = df[(df["group"] == grp) & (df["sex"] == sex)]
        tab = sub.pivot_table(index="symptom", columns="code", values="share",
                              aggfunc="sum").reindex(index=names, columns=STACK).fillna(0)
        left = np.zeros(n)
        for code in STACK:
            w = tab[code].values
            if w.sum() > 0:
                ax.barh(pos, w, left=left, height=0.85, color=COLOURS[code],
                        edgecolor="white", linewidth=0.15)
            left += w
        ax.set_xlim(-0.05, 1.05)
        ax.set_ylim(n - 1 + 0.6, -0.6)
        ax.set_xticks([0, 0.25, 0.5, 0.75, 1])
        ax.set_xticks(np.arange(0.125, 1, 0.25), minor=True)
        ax.set_yticks(pos)
        ax.grid(True, which="major", color="#ebebeb", linewidth=0.5)
        ax.grid(True, axis="x", which="minor", color="#f3f3f3", linewidth=0.3)
        ax.set_axisbelow(True)
        ax.tick_params(which="both", length=0, labelbottom=False, pad=3,
                       labelsize=FS, labelcolor=TXT)
        if sex == "Men":
            ax.set_yticklabels(names)
        else:
            ax.set_yticklabels([])
        for s in ax.spines.values():
            s.set_visible(False)
        if grp == GROUPS[0]:
            fig.text((x0 + 10 + x1 - 10) / 2 / W, 1 - 4.5 / H, sex,
                     ha="center", va="center", fontsize=FS, color=TXT)
    fig.text(548 / W, 1 - (y0 + h / 2) / H, grp, rotation=270,
             ha="center", va="center", fontsize=FS, color=TXT)
    y0 += h + GAP
    start += n

# legend, one block per cancer group
ly = 28
for title, codes in LEGEND_GROUPS:
    fig.text(560 / W, 1 - ly / H, title, ha="left", va="center", fontsize=FS, color=TXT)
    ly += 12
    for c in codes:
        fig.add_artist(Rectangle((560 / W, 1 - (ly + 4.3) / H), 8.6 / W, 8.6 / H,
                                 transform=fig.transFigure, facecolor=COLOURS[c],
                                 edgecolor="white", linewidth=0.3))
        fig.text(573 / W, 1 - ly / H, CANCER_LABELS[c], ha="left", va="center",
                 fontsize=FS, color=TXT)
        ly += 9.7
    ly += 21.5 - 12

fig.savefig("out.png", dpi=100)
